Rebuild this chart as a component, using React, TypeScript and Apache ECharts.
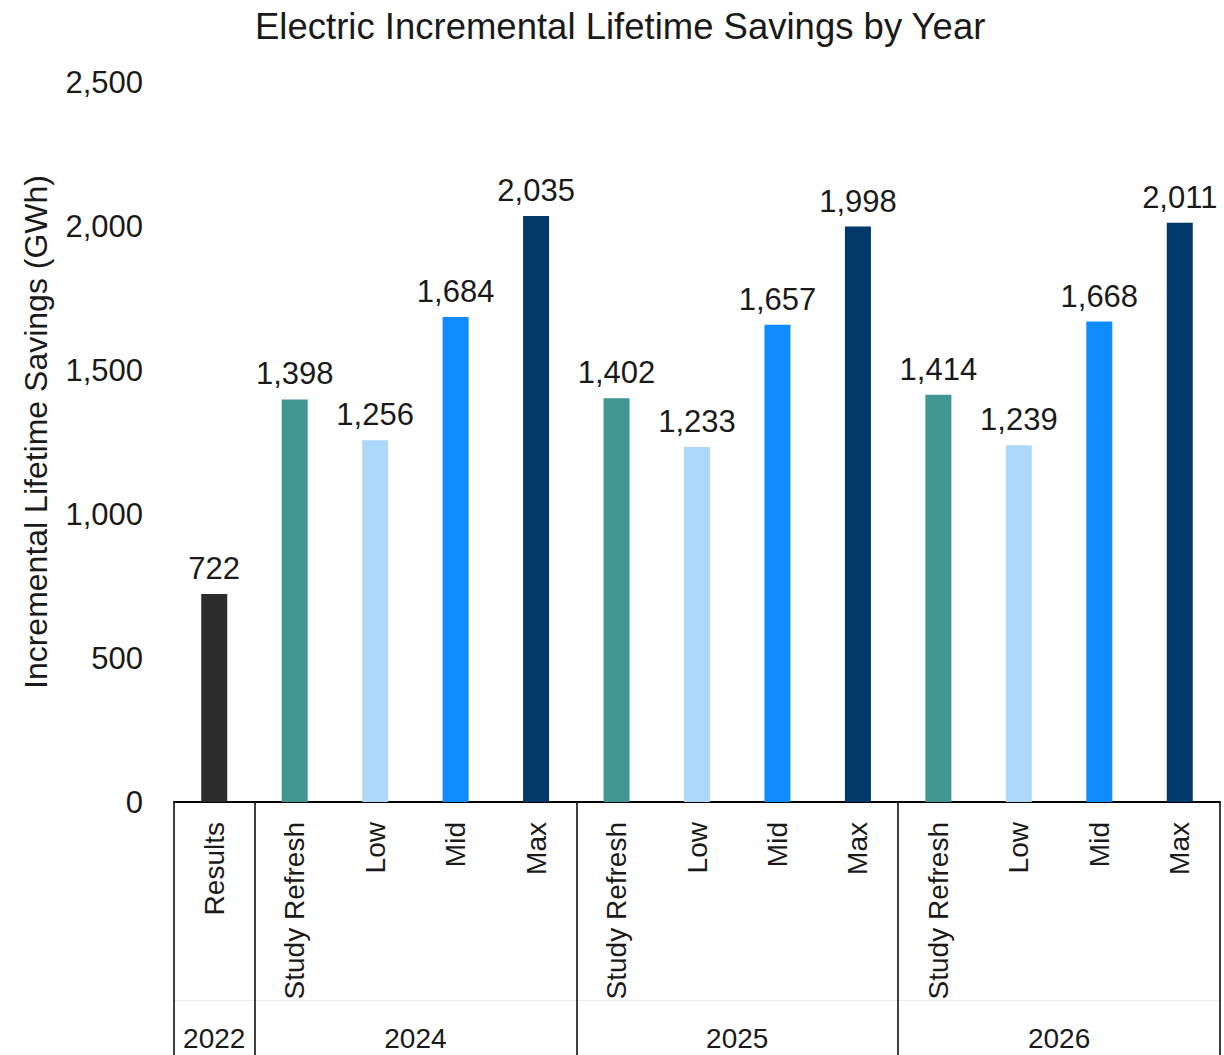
import React, { useEffect, useRef } from "react";
import * as echarts from "echarts";

const categories = ["Results", "Study Refresh", "Low", "Mid", "Max", "Study Refresh", "Low", "Mid", "Max", "Study Refresh", "Low", "Mid", "Max"];
const values = [722, 1398, 1256, 1684, 2035, 1402, 1233, 1657, 1998, 1414, 1239, 1668, 2011];
const years = ["2022", "2024", "2025", "2026"];
const groupSizes = [1, 4, 4, 4];
const yTicks = [0, 500, 1000, 1500, 2000, 2500];
const colorByCategory: Record<string, string> = {
  Results: "#2d2c2d",
  "Study Refresh": "#3f9692",
  Low: "#add8fc",
  Mid: "#0f8bff",
  Max: "#00386a",
};

const FONT = "Liberation Sans, Arial, sans-serif";
const TXT = "#1a1a1a";

export default function App() {
  const ref = useRef<HTMLDivElement>(null);
  useEffect(() => {
    document.body.style.margin = "0";
    if (!ref.current) return;
    const chart = echarts.init(ref.current, undefined, { renderer: "svg" });

    const boundaries: number[] = [0];
    const centers: number[] = [];
    groupSizes.forEach((s) => {
      const start = boundaries[boundaries.length - 1];
      centers.push(start + s / 2);
      boundaries.push(start + s);
    });
    const n = categories.length;

    chart.setOption({
      animation: false,
      title: {
        text: "Electric Incremental Lifetime Savings by Year",
        left: 250,
        top: 3,
        textStyle: { fontFamily: FONT, fontSize: 36.5, fontWeight: "normal", color: TXT },
      },
      grid: { left: 174, right: 4, top: 82, bottom: 253, containLabel: false },
      xAxis: [
        {
          type: "category",
          data: categories,
          axisLine: { show: true, lineStyle: { color: "#000", width: 2 } },
          axisTick: { show: false },
          axisLabel: {
            rotate: 90,
            margin: 20,
            interval: 0,
            fontFamily: FONT,
            fontSize: 28,
            color: TXT,
          },
        },
        {
          type: "value",
          min: 0,
          max: n,
          position: "bottom",
          axisLine: { show: false },
          splitLine: { show: false },
          axisTick: {
            show: true,
            customValues: boundaries,
            length: 253,
            lineStyle: { color: "#000", width: 1.5 },
          },
          axisLabel: {
            show: true,
            customValues: centers,
            margin: 222,
            fontFamily: FONT,
            fontSize: 28,
            color: TXT,
            formatter: (v: number) => {
              const i = centers.findIndex((c) => Math.abs(c - v) < 1e-6);
              return i >= 0 ? years[i] : "";
            },
          },
        },
        {
          type: "value",
          min: 0,
          max: n,
          position: "bottom",
          offset: 198,
          axisLine: { show: true, lineStyle: { color: "#ececec", width: 1 } },
          axisTick: { show: false },
          axisLabel: { show: false },
          splitLine: { show: false },
        },
      ],
      yAxis: {
        type: "value",
        min: 0,
        max: yTicks[yTicks.length - 1],
        interval: yTicks[1] - yTicks[0],
        name: "Incremental Lifetime Savings (GWh)",
        nameLocation: "middle",
        nameGap: 122,
        nameTextStyle: { fontFamily: FONT, fontSize: 32, color: TXT, padding: [0, 0, 0, 20] },
        axisLine: { show: false },
        axisTick: { show: false },
        splitLine: { show: false },
        axisLabel: {
          margin: 31,
          fontFamily: FONT,
          fontSize: 31,
          color: TXT,
          formatter: (v: number) => v.toLocaleString("en-US"),
        },
      },
      series: [
        {
          type: "bar",
          xAxisIndex: 0,
          barWidth: 26,
          data: values.map((v, i) => ({
            value: v,
            itemStyle: { color: colorByCategory[categories[i]] },
          })),
          label: {
            show: true,
            position: "top",
            distance: 10,
            fontFamily: FONT,
            fontSize: 31,
            color: TXT,
            formatter: (p: any) => Number(p.value).toLocaleString("en-US"),
          },
        },
      ],
    });
    return () => chart.dispose();
  }, []);
  return <div ref={ref} style={{ width: 1224, height: 1055 }} />;
}
